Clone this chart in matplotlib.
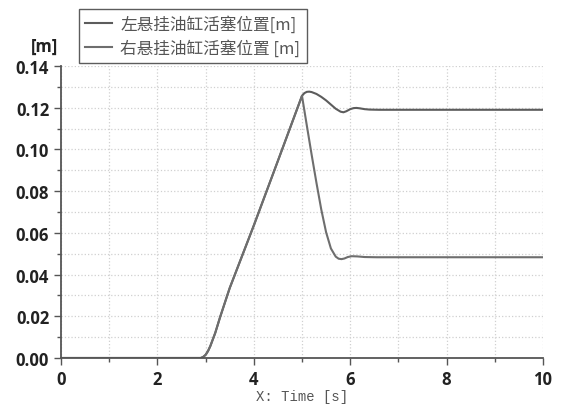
import matplotlib.pyplot as plt
from matplotlib.ticker import MultipleLocator

# values
t_ramp = [0, 2.9, 2.95, 3.0, 3.05, 3.1, 3.2, 3.3, 3.5, 3.7, 4.0, 4.5, 5.0]
y_ramp = [0, 0, 0.0005, 0.0015, 0.0033, 0.0058, 0.012, 0.0195, 0.0335, 0.0455, 0.0635, 0.0945, 0.1257]

t_left = [5.05, 5.1, 5.15, 5.2, 5.3, 5.4, 5.5, 5.6, 5.7, 5.8, 5.86, 5.92, 6.0, 6.07, 6.13, 6.2, 6.3, 6.4, 6.6, 10]
y_left = [0.1270, 0.1276, 0.1277, 0.1275, 0.1266, 0.1252, 0.1235, 0.1215, 0.1195, 0.1181, 0.1178, 0.1183, 0.1193,
          0.1198, 0.1199, 0.1197, 0.1193, 0.1191, 0.1190, 0.1190]

t_right = [5.1, 5.2, 5.3, 5.4, 5.5, 5.6, 5.7, 5.76, 5.82, 5.88, 5.95, 6.03, 6.15, 6.3, 6.55, 10]
y_right = [0.1115, 0.0975, 0.0840, 0.0712, 0.0603, 0.0525, 0.0486, 0.0476, 0.0474, 0.0477, 0.0484, 0.0488, 0.0487,
           0.0484, 0.0483, 0.0483]

labels = ["左悬挂油缸活塞位置[m]", "右悬挂油缸活塞位置 [m]"]

plt.rcParams['font.family'] = ['Noto Sans CJK SC', 'DejaVu Sans']

fig = plt.figure(figsize=(5.61, 4.06), dpi=100)
ax = fig.add_axes([0.1087, 0.1158, 0.8592, 0.7192])

ax.plot(t_ramp + t_left, y_ramp + y_left, color='#5c5c5c', lw=1.5, label=labels[0])
ax.plot(t_ramp + t_right, y_ramp + y_right, color='#6e6e6e', lw=1.5, label=labels[1])

ax.set_xlim(0, 10)
ax.set_ylim(0, 0.14)
ax.xaxis.set_major_locator(MultipleLocator(2))
ax.xaxis.set_minor_locator(MultipleLocator(1))
ax.yaxis.set_major_locator(MultipleLocator(0.02))
ax.yaxis.set_minor_locator(MultipleLocator(0.01))
ax.grid(True, which='both', color='#d0d0d0', linestyle=':', lw=0.9)

for s in ['top', 'right']:
    ax.spines[s].set_visible(False)
for s in ['left', 'bottom']:
    ax.spines[s].set_color('#555555')
    ax.spines[s].set_linewidth(1.3)

ax.tick_params(which='major', length=5, width=1, color='#555555')
ax.tick_params(which='minor', length=3, width=1, color='#555555')

ax.set_xticks(ax.get_xticks())
ax.set_yticks(ax.get_yticks())
ax.set_xticklabels([f"{v:g}" for v in ax.get_xticks()])
ax.set_yticklabels([f"{v:.2f}" for v in ax.get_yticks()])
for lab in ax.get_xticklabels() + ax.get_yticklabels():
    lab.set_family('Open Sans')
    lab.set_fontweight('bold')
    lab.set_fontsize(12)
    lab.set_color('#222222')
ax.set_xlim(0, 10)
ax.set_ylim(0, 0.14)

ax.set_xlabel("X: Time [s]", family='Liberation Mono', fontsize=10, color='#555555', labelpad=1)
ax.text(-0.035, 1.07, "[m]", transform=ax.transAxes, ha='center', va='center',
        family='Open Sans', fontweight='bold', fontsize=12, color='#222222')

leg = ax.legend(loc='lower left', bbox_to_anchor=(0.037, 1.01), fontsize=12, frameon=True, fancybox=False,
                handlelength=1.6, handletextpad=0.5, borderpad=0.4, labelspacing=0.35, borderaxespad=0)
leg.get_frame().set_edgecolor('#333333')
leg.get_frame().set_linewidth(1)
for txt in leg.get_texts():
    txt.set_color('#555555')

fig.savefig("out.png", dpi=100)
